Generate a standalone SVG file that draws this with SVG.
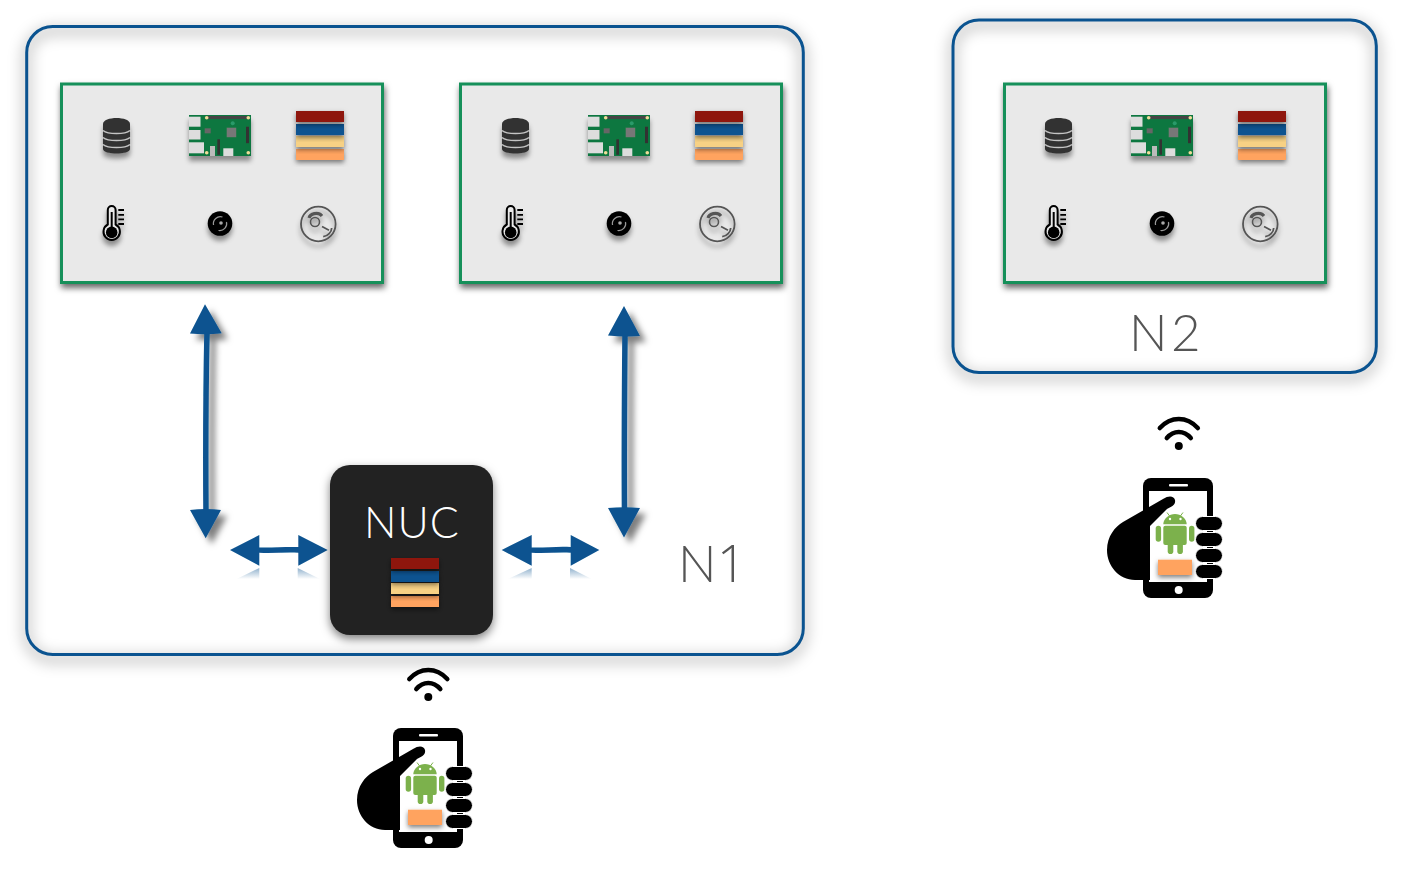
<svg xmlns="http://www.w3.org/2000/svg" width="1418" height="880" viewBox="0 0 1418 880">
<style>
.lbl{font-family:"Lato","Liberation Sans",sans-serif;font-weight:300;fill:#555;font-size:51px}
.outer{fill:none;stroke:#0a5390;stroke-width:3}
.glow{fill:none;stroke:#000;stroke-width:10;stroke-opacity:.2}
.panel{fill:#e9e9e9;stroke:#13905a;stroke-width:3}
.arr{fill:#0a5390}
.line{stroke:#0a5390;stroke-width:5.500;fill:none}
</style>
<defs>
<filter id="glow" x="-10%" y="-10%" width="120%" height="125%"><feGaussianBlur stdDeviation="7"/></filter>
<filter id="shA" x="-30%" y="-10%" width="190%" height="125%"><feDropShadow dx="6" dy="6" stdDeviation="3" flood-color="#000" flood-opacity=".5"/></filter>
<filter id="shP" x="-10%" y="-10%" width="120%" height="125%"><feDropShadow dx="1" dy="4" stdDeviation="3" flood-color="#000" flood-opacity=".6"/></filter>
<filter id="shI" x="-30%" y="-30%" width="160%" height="170%"><feGaussianBlur in="SourceAlpha" stdDeviation="2.500" result="b"/><feOffset in="b" dy="5" result="o"/><feFlood flood-color="#000" flood-opacity=".4"/><feComposite in2="o" operator="in" result="s"/><feGaussianBlur in="SourceGraphic" stdDeviation=".4" result="g"/><feMerge><feMergeNode in="s"/><feMergeNode in="g"/></feMerge></filter>
<filter id="shS" x="-15%" y="-40%" width="130%" height="200%"><feDropShadow dx="0" dy="2.500" stdDeviation="2.500" flood-color="#000" flood-opacity=".5"/></filter>
<filter id="shN" x="-15%" y="-15%" width="130%" height="130%"><feDropShadow dx="0" dy="4" stdDeviation="5" flood-color="#000" flood-opacity=".5"/></filter>
<filter id="sft" x="-10%" y="-10%" width="120%" height="120%"><feGaussianBlur stdDeviation=".35"/></filter>
<linearGradient id="fade" x1="0" y1="0" x2="0" y2="1"><stop offset="0" stop-color="#0a5390" stop-opacity=".45"/><stop offset="1" stop-color="#0a5390" stop-opacity="0"/></linearGradient>
<g id="stack">
<rect x="0" y="38" width="48" height="11" fill="#ffa35e" filter="url(#shS)"/>
<rect x="0" y="25" width="48" height="11" fill="#f7d184" filter="url(#shS)"/>
<rect x="0" y="13" width="48" height="11" fill="#0a5390" filter="url(#shS)"/>
<rect x="0" y="0" width="48" height="11" fill="#8e130b" filter="url(#shS)"/>
</g>
<g id="icons">
<g filter="url(#shI)">
<path d="M103 124c0-8 27-8 27 0v25c0 6-27 6-27 0z" fill="#333"/>
<path d="M103 130.500c5 4 22 4 27 0M103 137.500c5 4 22 4 27 0M103 144.500c5 4 22 4 27 0" stroke="#c4c4c4" stroke-width="1.500" fill="none"/>
</g>
<g filter="url(#shI)">
<rect x="189" y="115" width="62" height="41" fill="#11773f"/>
<rect x="207" y="116" width="41" height="3" fill="#444"/>
<rect x="189" y="116.700" width="11.500" height="10" fill="#ddd"/><rect x="189" y="130" width="11.500" height="9.500" fill="#ddd"/><rect x="189" y="142.300" width="15" height="11" fill="#ddd"/>
<rect x="226.700" y="127.700" width="9.500" height="9.500" fill="#777"/><rect x="204.700" y="128.300" width="6" height="5" fill="#666"/>
<rect x="246" y="126.700" width="3" height="16.500" fill="#333"/><rect x="217.300" y="139.300" width="2.700" height="15.500" fill="#333"/>
<rect x="210" y="146" width="5" height="10" fill="#bbb"/><rect x="223.300" y="148.300" width="10" height="7.700" fill="#ddd"/>
<circle cx="232.700" cy="123.300" r="2" fill="#2a9a6a"/>
<circle cx="206.700" cy="117.700" r="1.800" fill="#eedd99"/><circle cx="248.300" cy="117.700" r="1.800" fill="#eedd99"/><circle cx="206.700" cy="152.700" r="1.800" fill="#eedd99"/><circle cx="248.300" cy="152.700" r="1.800" fill="#eedd99"/>
</g>
<use href="#stack" x="296" y="111"/>
<g filter="url(#shI)">
<path d="M107.800 210a3.900 3.900 0 0 1 7.800 0v14.500a8.200 8.200 0 1 1-7.800 0z" fill="#e9e9e9" stroke="#000" stroke-width="2"/>
<circle cx="111.700" cy="232.400" r="5.800" fill="#000"/><rect x="110.700" y="212" width="2" height="17" fill="#000"/>
<path d="M118.300 210h5.700M118.300 214.800h5.700M118.300 219.300h5.700M118.300 224h5.700" stroke="#000" stroke-width="1.800"/>
</g>
<g filter="url(#shI)">
<circle cx="220" cy="223.500" r="12.300" fill="#000"/>
<path d="M213.500 225a7 7 0 0 1 9-8M226.500 222a7 7 0 0 1-8 8.500" fill="none" stroke="#999" stroke-width="1.200"/>
<circle cx="221" cy="223" r="1.800" fill="#aaa"/>
</g>
<g filter="url(#shI)" fill="none" stroke="#555">
<circle cx="318.300" cy="224" r="17.300" stroke-width="1.800"/>
<circle cx="315" cy="222" r="4.500" stroke-width="1.600"/>
<path d="M309 218c1-4 9-7 13-2" stroke-width="3.200"/>
<path d="M322 226.500l7 3.800M331.700 228c0 4-4 8-8.500 8.700" stroke-width="1.800"/>
</g>
</g>
<g id="phone">
<rect x="36" y="0" width="70" height="120" rx="8" fill="#000"/>
<rect x="42" y="13" width="58" height="91" fill="#fff"/>
<rect x="62" y="6" width="19" height="2.500" rx="1" fill="#fff"/>
<circle cx="71.700" cy="112" r="4" fill="#fff"/>
<path d="M0 72C0 58 8 49 16 44L56 21C62 17 67 18 68 22C69 27 64 29 60 31L43 48V102H28C12 102 0 88 0 72z" fill="#000"/>
<g fill="#000" stroke="#fff" stroke-width="1"><rect x="88.500" y="38.500" width="27" height="14" rx="7"/><rect x="88.500" y="54.500" width="27" height="14" rx="7"/><rect x="88.500" y="70.500" width="27" height="14" rx="7"/><rect x="88.500" y="86.500" width="27" height="14" rx="7"/></g>
<g fill="#7cb14c">
<path d="M56.300 46.300c0-6 6-10.300 11.700-10.300s11.700 4.300 11.700 10.300z"/>
<rect x="56.300" y="47.700" width="23.400" height="19.300" rx="2"/>
<rect x="48.700" y="47.700" width="5.400" height="16" rx="2.700"/><rect x="82" y="47.700" width="5.400" height="16" rx="2.700"/>
<rect x="60.700" y="62" width="5.600" height="14" rx="2.800"/><rect x="70.300" y="62" width="5.600" height="14" rx="2.800"/>
<path d="M60 34.500l3 4M76 34.500l-3 4" stroke="#7cb14c" stroke-width="1"/>
</g>
<circle cx="63" cy="41" r="1.200" fill="#fff"/><circle cx="73.500" cy="41" r="1.200" fill="#fff"/>
<rect x="51" y="81.700" width="34" height="15.300" fill="#ffa35e" filter="url(#shS)"/>
</g>
<g id="wifi" fill="none" stroke="#000" stroke-width="4.500" stroke-linecap="round">
<path d="M-19-6c11-12 27-12 38 0"/>
<path d="M-12 4c7-8 17-8 24 0"/>
<circle cx="0" cy="12" r="4" fill="#000" stroke="none"/>
</g>
</defs>

<g id="n1">
<rect class="glow" x="26.700" y="31" width="776.600" height="628" rx="26" filter="url(#glow)"/>
<rect class="outer" x="26.700" y="26.500" width="776.600" height="628" rx="26"/>
<text class="lbl" y="582"><tspan x="678">N</tspan><tspan x="717" font-family="'Open Sans','Liberation Sans',sans-serif">1</tspan></text>
</g>
<g id="n2">
<rect class="glow" x="953" y="24.500" width="423.300" height="352.500" rx="26" filter="url(#glow)"/>
<rect class="outer" x="953" y="20" width="423.300" height="352.500" rx="26"/>
<text class="lbl" y="351"><tspan x="1129">N</tspan><tspan x="1171">2</tspan></text>
</g>
<g id="panel-1"><rect class="panel" x="61.500" y="84" width="321" height="198.500" filter="url(#shP)"/><use href="#icons"/></g>
<g id="panel-2"><rect class="panel" x="460.500" y="84" width="321" height="198.500" filter="url(#shP)"/><use href="#icons" x="399"/></g>
<g id="panel-3"><rect class="panel" x="1004.500" y="84" width="321" height="198.500" filter="url(#shP)"/><use href="#icons" x="942"/></g>

<g id="connectors">
<g filter="url(#shA)">
<path class="line" d="M207 330C206 380 205.500 450 206 515"/>
<path class="arr" d="M205 304.300L221.700 333.300Q206 335 190 333.500zM205.700 538.300L190 510Q206 508 221 510z"/>
<path class="line" d="M625 332C624.500 390 624 450 624.500 512"/>
<path class="arr" d="M624 306L640 336Q624 337 608 335.500zM624 537.500L608 508Q624 506.500 640 508z"/>
</g>
<g filter="url(#sft)">
<path class="arr" d="M230 550L259.300 535V547.500C272 548 285 546.500 298.300 547V535L327.700 550L298.300 565.700V552.700C285 552 272 553.500 259.300 552.700V565.700z"/>
<path class="arr" d="M501.700 550L531.700 535V547.500C545 548 558 546 570.700 547V535L599.300 550L570.700 565.700V552.700C558 552 545 553.500 531.700 552.700V565.700z"/>
</g>
<path fill="url(#fade)" d="M236.700 579L259.300 568V579zM297.700 568L320 579H297.700zM508 579L531.700 568V579zM570 568L591.700 579H570z"/>
</g>

<g id="nuc">
<rect x="330" y="465" width="163" height="170" rx="20" fill="#222" filter="url(#shN)"/>
<text x="412" y="538" text-anchor="middle" font-family="Lato,'Liberation Sans',sans-serif" font-weight="300" font-size="43" letter-spacing="1" fill="#fff">NUC</text>
<use href="#stack" x="391" y="558"/>
</g>
<g id="phone-1"><use href="#wifi" x="428.300" y="685"/><use href="#phone" x="357" y="728"/></g>
<g id="phone-2"><use href="#wifi" x="1178.800" y="434"/><use href="#phone" x="1107" y="478"/></g>
</svg>
